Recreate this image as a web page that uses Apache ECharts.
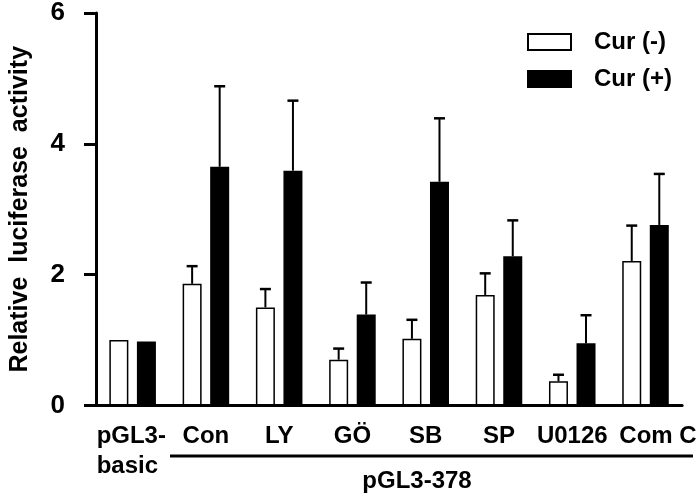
<!DOCTYPE html>
<html>
<head>
<meta charset="utf-8">
<script src="https://cdn.jsdelivr.net/npm/echarts@6/dist/echarts.min.js"></script>
<style>
  html, body { margin: 0; padding: 0; background: #fff; }
  #chart { width: 699px; height: 494px; }
</style>
</head>
<body>
<div id="chart"></div>
<script>
var categories = ['pGL3-\nbasic', 'Con', 'LY', 'GÖ', 'SB', 'SP', 'U0126', 'Com C'];
var curMinus = [1.00, 1.86, 1.50, 0.70, 1.02, 1.69, 0.37, 2.21];
var curMinusErr = [0, 0.27, 0.28, 0.17, 0.29, 0.33, 0.10, 0.54];
var curPlus = [0.98, 3.65, 3.59, 1.39, 3.42, 2.28, 0.95, 2.76];
var curPlusErr = [0, 1.23, 1.07, 0.49, 0.97, 0.55, 0.43, 0.78];
var yTicks = [0, 2, 4, 6];

var FONT = '"Liberation Sans", Arial, sans-serif';
var BAR_W = 19, GAP = 0.45; // bar width px, gap as fraction of bar width
var half = (BAR_W * 2 + BAR_W * GAP) / 2 - BAR_W / 2;

var chart = echarts.init(document.getElementById('chart'));

// error bars (upper only) for one bar series
function errorSeries(values, errs, offset) {
  var data = [];
  for (var i = 0; i < values.length; i++) {
    if (errs[i] > 0) data.push([i, values[i], values[i] + errs[i]]);
  }
  return {
    type: 'custom',
    z: 5,
    silent: true,
    data: data,
    renderItem: function(params, api) {
      var lo = api.coord([api.value(0), api.value(1)]);
      var hi = api.coord([api.value(0), api.value(2)]);
      var x = lo[0] + offset;
      return {
        type: 'group',
        children: [
          { type: 'line', shape: { x1: x, y1: lo[1], x2: x, y2: hi[1] }, style: { stroke: '#000', lineWidth: 2 } },
          { type: 'line', shape: { x1: x - 5.5, y1: hi[1], x2: x + 5.5, y2: hi[1] }, style: { stroke: '#000', lineWidth: 2.5 } }
        ]
      };
    }
  };
}

var labelFont = { fontFamily: FONT, fontSize: 24, fontWeight: 'bold', color: '#000' };

chart.setOption({
  animation: false,
  textStyle: { fontFamily: FONT },
  grid: { left: 87, right: 15, top: 12, bottom: 88.5 },
  legend: {
    data: ['Cur (-)', 'Cur (+)'],
    orient: 'vertical',
    left: 527,
    top: 30,
    padding: 0,
    itemWidth: 43,
    itemHeight: 16,
    itemGap: 13,
    icon: 'rect',
    textStyle: { fontFamily: FONT, fontSize: 24, fontWeight: 'bold', color: '#000', lineHeight: 16, padding: [0, 0, 0, 18] }
  },
  xAxis: {
    type: 'category',
    data: categories,
    axisLine: { lineStyle: { color: '#000', width: 3 } },
    axisTick: { alignWithLabel: true, length: 12, lineStyle: { color: '#000', width: 3 } },
    axisLabel: {
      interval: 0,
      margin: 16,
      color: '#000',
      fontFamily: FONT,
      fontSize: 24,
      fontWeight: 'bold',
      lineHeight: 30,
      formatter: function(v, i) {
        if (i === 0) return '{left|' + v.split('\n').join('}\n{left|') + '}';
        if (i === categories.length - 1) return '{shift|' + v + '}';
        return v;
      },
      rich: {
        left: Object.assign({ width: 72, align: 'left', lineHeight: 30 }, labelFont),
        shift: Object.assign({ padding: [0, 0, 0, 25], lineHeight: 30 }, labelFont)
      }
    }
  },
  yAxis: {
    type: 'value',
    min: yTicks[0],
    max: yTicks[yTicks.length - 1],
    interval: 2,
    name: 'Relative  luciferase  activity',
    nameLocation: 'middle',
    nameGap: 63,
    nameTextStyle: { fontFamily: FONT, fontSize: 25, fontWeight: 'bold', color: '#000' },
    splitLine: { show: false },
    axisLine: { show: true, lineStyle: { color: '#000', width: 3 } },
    axisTick: { show: true, length: 12, lineStyle: { color: '#000', width: 3 } },
    axisLabel: { margin: 31, color: '#000', fontFamily: FONT, fontSize: 26, fontWeight: 'bold' }
  },
  series: [
    {
      name: 'Cur (-)',
      type: 'bar',
      data: curMinus,
      barWidth: BAR_W,
      barGap: (GAP * 100) + '%',
      itemStyle: { color: '#fff', borderColor: '#000', borderWidth: 1.5 }
    },
    {
      name: 'Cur (+)',
      type: 'bar',
      data: curPlus,
      barWidth: BAR_W,
      barGap: (GAP * 100) + '%',
      itemStyle: { color: '#000', borderColor: '#000', borderWidth: 1.5 }
    },
    errorSeries(curMinus, curMinusErr, -half),
    errorSeries(curPlus, curPlusErr, half)
  ],
  graphic: [
    { type: 'line', shape: { x1: 170, y1: 456, x2: 693, y2: 456 }, style: { stroke: '#000', lineWidth: 3 } },
    {
      type: 'text', x: 417, y: 481,
      style: { text: 'pGL3-378', font: 'bold 24px ' + FONT, fill: '#000', align: 'center', verticalAlign: 'middle' }
    }
  ]
});
</script>
</body>
</html>
